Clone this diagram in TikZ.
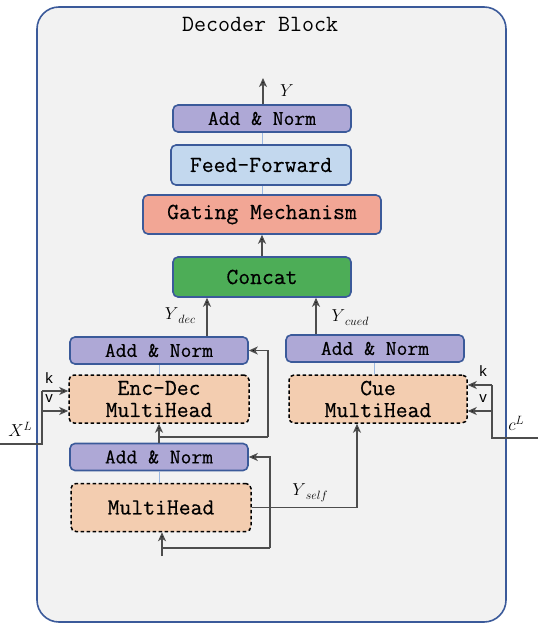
\documentclass[tikz,border=0pt]{standalone}
\usepackage{fontspec}
\newfontfamily\boxfont{Latin Modern Mono}[AutoFakeBold=0.45]
\newfontfamily\labfont{Liberation Sans}
\usetikzlibrary{arrows.meta,calc}
\definecolor{bgfill}{HTML}{F2F2F2}
\definecolor{bgdraw}{HTML}{3B5A9A}
\definecolor{anfill}{HTML}{AEA8D6}
\definecolor{fffill}{HTML}{C3D8EE}
\definecolor{gtfill}{HTML}{F2A695}
\definecolor{ccfill}{HTML}{4DAD57}
\definecolor{mhfill}{HTML}{F3CDB0}
\definecolor{lbline}{HTML}{9CB8E0}
\definecolor{conn}{HTML}{4D4D4D}
\newcommand\subl[1]{\raisebox{-4pt}{\fontsize{12.5}{14}\selectfont$#1$}}
\newcommand\supl[1]{\raisebox{6pt}{\fontsize{12.5}{14}\selectfont$#1$}}
\tikzset{
  blk/.style={rounded corners=5pt, draw=bgdraw, line width=1.6pt, inner sep=0pt, align=center,
    font=\boxfont\bfseries\fontsize{23}{24}\selectfont},
  addnorm/.style={blk, fill=anfill, minimum width=178pt, minimum height=27pt,
    font=\boxfont\bfseries\fontsize{21}{22}\selectfont},
  mhbox/.style={blk, draw=black, fill=mhfill, dashed, dash pattern=on 3.5pt off 2.5pt, line width=1.5pt,
    minimum width=180pt, minimum height=48pt},
  conline/.style={draw=conn, line width=1.3pt},
  arr/.style={conline, -{Stealth[length=9pt,width=8pt,inset=2.5pt,fill=black]}},
  lbl/.style={draw=lbline, line width=1pt},
  mlab/.style={font=\fontsize{17}{18}\selectfont, inner sep=0pt},
  kv/.style={font=\labfont\fontsize{15}{17}\selectfont, inner sep=0pt},
}
\begin{document}
\begin{tikzpicture}[x=1pt,y=-1pt]
\useasboundingbox (0,0) rectangle (538,628);
\draw[fill=bgfill, draw=bgdraw, line width=1.6pt, rounded corners=22pt] (37,7) rectangle (506,622);
\node[font=\boxfont\fontsize{23.3}{24}\selectfont, inner sep=0pt] (title) at (260,24) {Decoder Block};

% top stack
\node[addnorm] (an3) at (262,118.5) {Add \& Norm};
\node[blk, fill=fffill, minimum width=180pt, minimum height=40pt] (ff) at (261,165) {Feed-Forward};
\node[blk, fill=gtfill, minimum width=238pt, minimum height=39pt] (gate) at (262,214.5) {Gating Mechanism};
\node[blk, fill=ccfill, minimum width=178pt, minimum height=40pt] (concat) at (262,277) {Concat};

% left column
\node[addnorm] (an1) at (159,350.5) {Add \& Norm};
\node[mhbox] (encdec) at (159,399) {Enc-Dec\\[-2pt]MultiHead};
\node[addnorm] (an2) at (159,457) {Add \& Norm};
\node[mhbox] (mh) at (161,507.5) {MultiHead};

% right column
\node[addnorm] (an4) at (375,348.5) {Add \& Norm};
\node[mhbox, minimum width=178pt] (cue) at (378,399) {Cue\\[-2pt]MultiHead};

% light links
\draw[lbl] (an3.south) -- (an3.south |- ff.north);
\draw[lbl] (ff.south -| an3.south) -- (an3.south |- gate.north);
\draw[lbl] (an1.south) -- (encdec.north);
\draw[lbl] (an2.south) -- (an2.south |- mh.north);
\coordinate (xcu) at (374,0);
\draw[lbl] (an4.south -| xcu) -- (cue.north -| xcu);

% output
\coordinate (yout) at (263,78);
\draw[arr] (an3.north -| yout) -- (yout);
\node[mlab] (ylab) at (287,91) {$Y$};
\draw[arr] (concat.north -| gate.south) -- (gate.south);

% Y_dec, Y_cued
\coordinate (xdec) at (207,0);
\draw[arr] (an1.north -| xdec) -- (concat.south -| xdec);
\node[mlab] (ydec) at (180,316) {$Y$\subl{dec}};
\coordinate (xcued) at (316,0);
\draw[arr] (an4.north -| xcued) -- (concat.south -| xcued);
\node[mlab] (ycued) at (350,318) {$Y$\subl{cued}};

% residual upper
\draw[arr] (an2.north) -- (encdec.south);
\coordinate (b1) at (159,437);
\coordinate (r1) at (268,437);
\draw[conline] (b1) -- (r1);
\draw[arr] (r1) |- (an1.east);

% bottom input
\coordinate (inp) at (162,556);
\draw[arr] (inp) -- (mh.south -| inp);
\coordinate (b2) at (162,548);
\coordinate (r2) at (270,548);
\draw[conline] (b2) -- (r2);
\draw[arr] (r2) |- (an2.east);

% Y_self
\coordinate (xself) at (357,0);
\draw[arr] (mh.east) -| (cue.south -| xself);
\node[mlab] (yself) at (310,493) {$Y$\subl{self}};

% X^L
\coordinate (xl) at (0,444);
\coordinate (xlc) at (42,444);
\coordinate (kxl) at (42,391);
\coordinate (vxl) at (42,411);
\draw[conline] (xl) -- (xlc) -- (kxl);
\draw[arr] (kxl) -- (encdec.west |- kxl);
\draw[arr] (vxl) -- (encdec.west |- vxl);
\node[kv] (k1) at (49,378) {k};
\node[kv] (v1) at (49,399) {v};
\node[mlab] (xlab) at (20,429) {$X$\supl{L}};

% c^L
\coordinate (cl) at (538,438);
\coordinate (clc) at (492,438);
\coordinate (kcl) at (492,385);
\coordinate (vcl) at (492,411);
\draw[conline] (cl) -- (clc) -- (kcl);
\draw[arr] (kcl) -- (cue.east |- kcl);
\draw[arr] (vcl) -- (cue.east |- vcl);
\node[kv] (k2) at (483,371) {k};
\node[kv] (v2) at (483,399) {v};
\node[mlab] (clab) at (516,423) {$c$\supl{L}};
\end{tikzpicture}
\end{document}
